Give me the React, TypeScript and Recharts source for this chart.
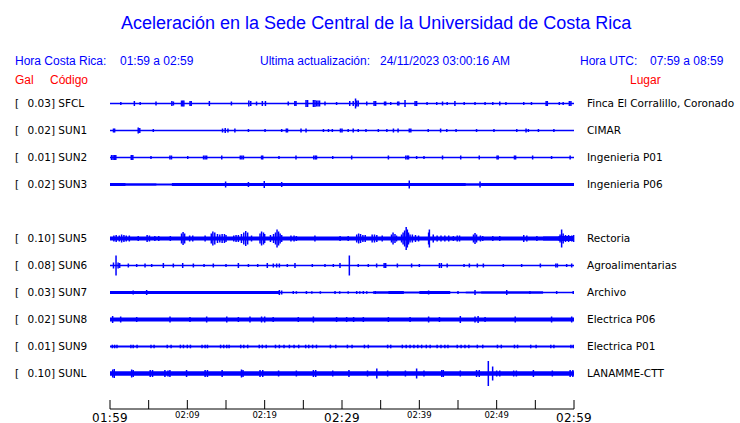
import React from 'react';
import { ComposedChart, Area, Scatter, ErrorBar, XAxis, YAxis } from 'recharts';

// ---------- categories / labels ----------
const STATIONS: (string | null)[] = ['SFCL', 'SUN1', 'SUN2', 'SUN3', null, 'SUN5', 'SUN6', 'SUN7', 'SUN8', 'SUN9', 'SUNL'];
const GAL = ['0.03', '0.02', '0.01', '0.02', '', '0.10', '0.08', '0.03', '0.02', '0.01', '0.10'];
const PLACES = ['Finca El Corralillo, Coronado', 'CIMAR', 'Ingenieria P01', 'Ingenieria P06', '', 'Rectoria', 'Agroalimentarias', 'Archivo', 'Electrica P06', 'Electrica P01', 'LANAMME-CTT'];

// minutes after 01:59
const TIME_TICKS = [0, 5, 10, 15, 20, 25, 30, 35, 40, 45, 50, 55, 60];
const TIME_LABELS = ['01:59', '', '02:09', '', '02:19', '', '02:29', '', '02:39', '', '02:49', '', '02:59'];
const MAJOR_LABELS = ['01:59', '02:29', '02:59'];

// ---------- trace envelopes (half thickness, every 2 min) ----------
const ENV_TIMES = [0, 2, 4, 6, 8, 10, 12, 14, 16, 18, 20, 22, 24, 26, 28, 30, 32, 34, 36, 38, 40, 42, 44, 46, 48, 50, 52, 54, 56, 58, 60];
const ENV_SFCL = [0.65, 0.65, 0.65, 0.65, 0.65, 0.65, 0.65, 0.65, 0.65, 0.65, 0.65, 0.65, 0.65, 0.65, 0.65, 0.65, 0.65, 0.65, 0.65, 0.65, 0.65, 0.65, 0.65, 0.65, 0.65, 0.65, 0.65, 0.65, 0.65, 0.65];
const ENV_SUN1 = [0.65, 0.65, 0.65, 0.65, 0.65, 0.65, 0.65, 0.65, 0.65, 0.65, 0.65, 0.65, 0.65, 0.65, 0.65, 0.65, 0.65, 0.65, 0.65, 0.65, 0.65, 0.65, 0.65, 0.65, 0.65, 0.65, 0.65, 0.65, 0.65, 0.65];
const ENV_SUN2 = [0.65, 0.65, 0.65, 0.65, 0.65, 0.65, 0.65, 0.65, 0.65, 0.65, 0.65, 0.65, 0.65, 0.65, 0.65, 0.65, 0.65, 0.65, 0.65, 0.65, 0.65, 0.65, 0.65, 0.65, 0.65, 0.65, 0.65, 0.65, 0.65, 0.65];
const ENV_SUN3 = [1.4, 1.2, 1.3, 1.1, 1.6, 1.6, 1.6, 1.6, 1.6, 1.6, 1.6, 1.6, 1.6, 1.6, 1.6, 1.6, 1.6, 1.6, 1.6, 1.6, 1.6, 1.6, 1.6, 1.2, 1.6, 1.4, 1.6, 1.4, 1.6, 1.6];
const ENV_SUN5 = [2.0, 2.0, 2.0, 2.0, 2.0, 2.0, 2.0, 2.0, 2.0, 2.0, 2.0, 2.0, 2.0, 2.0, 2.0, 2.0, 2.0, 2.0, 2.0, 2.0, 2.0, 2.0, 2.0, 2.0, 2.0, 2.0, 2.0, 2.0, 2.2, 2.5];
const ENV_SUN6 = [0.65, 0.65, 0.65, 0.65, 0.65, 0.65, 0.65, 0.65, 0.65, 0.65, 0.65, 0.65, 0.65, 0.65, 0.65, 0.65, 0.65, 0.65, 0.65, 0.65, 0.65, 0.65, 0.65, 0.65, 0.65, 0.65, 0.65, 0.65, 0.65, 0.65];
const ENV_SUN7 = [1.5, 1.5, 1.5, 1.5, 1.5, 1.5, 1.5, 1.5, 1.5, 1.5, 1.5, 0.8, 0.8, 0.8, 0.8, 0.8, 0.8, 1.2, 1.5, 0.9, 1.5, 1.5, 0.8, 0.9, 1.3, 1.3, 1.3, 1.3, 0.8, 0.8];
const ENV_SUN8 = [2.0, 2.0, 2.0, 2.0, 2.0, 2.0, 2.0, 2.0, 2.0, 2.0, 2.0, 2.0, 2.0, 2.0, 2.0, 2.0, 2.0, 2.0, 2.0, 2.0, 2.0, 2.0, 2.0, 2.0, 2.0, 2.0, 2.0, 2.0, 2.0, 2.0];
const ENV_SUN9 = [0.9, 0.9, 0.9, 0.9, 0.9, 0.9, 0.9, 0.9, 0.9, 0.9, 0.9, 0.9, 0.9, 0.9, 0.9, 0.9, 0.9, 0.9, 0.9, 0.9, 0.9, 0.9, 0.9, 0.9, 0.9, 0.9, 0.9, 0.9, 0.9, 0.9];
const ENV_SUNL = [2.2, 2.2, 2.2, 2.2, 2.2, 2.2, 2.2, 2.2, 2.2, 2.2, 2.2, 2.2, 2.2, 2.2, 2.2, 2.2, 2.2, 2.2, 2.2, 2.2, 2.2, 2.2, 2.2, 2.2, 2.2, 2.2, 2.2, 2.2, 2.2, 2.2];

// ---------- spikes: [minute, half amplitude] ----------
const SPK_SFCL: [number, number][] = [[1.4, 1.5], [3.15, 2.5], [3.9, 1.5], [5.95, 2], [8.0, 2.5], [8.2, 2], [9.25, 3], [9.4, 3], [9.55, 3], [10.35, 2.5], [10.5, 2.5], [12.85, 2.5], [15.7, 2], [17.95, 3], [18.2, 2.5], [18.95, 2], [19.7, 2.5], [20.1, 2.5], [23.05, 2], [23.9, 2.5], [24.05, 2.5], [25.35, 3.5], [25.55, 3.5], [26.3, 3.5], [26.5, 3.5], [26.7, 3], [26.9, 3], [27.1, 3], [27.8, 2], [29.3, 1.5], [31.0, 2.5], [31.45, 2.5], [31.75, 5], [31.9, 3], [32.1, 3], [33.2, 2], [34.15, 2.5], [34.35, 2.5], [35.5, 2], [35.65, 2], [36.3, 1.5], [37.2, 2], [37.35, 2], [38.15, 3.5], [39.45, 2.5], [39.65, 2.5], [41.0, 1.5], [42.25, 1.5], [43.0, 2], [43.6, 1.5], [44.6, 2.5], [45.8, 1.5], [47.2, 1.5], [48.5, 1.5], [49.5, 1.5], [50.4, 2], [51.2, 1.5], [53.5, 1.5], [54.5, 1.5], [56.4, 2.5], [56.55, 2.5], [58.1, 1.5], [58.6, 1.5], [59.4, 2.5], [59.6, 2.5]];
const SPK_SUN1: [number, number][] = [[0.45, 2], [0.6, 2], [3.65, 3], [3.85, 2.5], [5.6, 1.5], [14.55, 2], [14.9, 2.5], [15.25, 2], [16.15, 2], [17.9, 1.5], [20.05, 1.5], [22.2, 1.5], [22.8, 2], [22.95, 2], [24.7, 2], [25.35, 2], [27.6, 1.5], [28.25, 1.5], [28.75, 1.5], [29.8, 2], [30.0, 2], [30.8, 1.5], [31.45, 2], [32.1, 1.5], [33.1, 1.5], [34.7, 1.5], [35.8, 1.5], [36.65, 2], [37.25, 2], [38.7, 2], [38.9, 2], [41.15, 1.5], [42.75, 2], [43.55, 1.5], [44.75, 1.5], [47.4, 1.5], [49.65, 1.5], [52.6, 1.5], [53.8, 2], [54.1, 1.5], [55.4, 1.5], [57.4, 1.5]];
const SPK_SUN2: [number, number][] = [[0.2, 2.5], [0.4, 2.5], [0.6, 2.5], [0.75, 2.5], [2.75, 2.5], [2.95, 2.5], [5.3, 1.5], [7.75, 2], [7.95, 2], [10.05, 1.5], [12.1, 2], [12.3, 2], [12.5, 2], [14.45, 2], [16.85, 2], [17.05, 2], [17.25, 2], [19.6, 2], [19.75, 2], [21.85, 1.5], [24.05, 2], [26.35, 2], [26.55, 2], [26.7, 2], [28.8, 1.5], [31.25, 2], [36.0, 2], [38.25, 2], [38.45, 2], [38.6, 2], [39.65, 1.5], [40.6, 1.5], [43.0, 2], [45.35, 2], [47.75, 2], [50.05, 2], [50.2, 2], [52.3, 2], [52.45, 2], [54.65, 2], [57.1, 1.5], [59.5, 2]];
const SPK_SUN3: [number, number][] = [[14.95, 3], [17.9, 2.5], [19.95, 3.5], [22.2, 2.5], [38.7, 4], [47.85, 3]];
const SPK_SUN5: [number, number][] = [[0.5, 3], [0.8, 3.5], [1.2, 3], [1.5, 4], [1.8, 3.5], [2.1, 3], [2.5, 3], [3.65, 2.5], [4.8, 3.5], [5.1, 3], [5.8, 2.5], [6.3, 2.5], [7.8, 2.5], [9.25, 5], [9.45, 6.5], [9.65, 5], [10.3, 3], [10.7, 3], [12.3, 3], [13.1, 5], [13.3, 7], [13.55, 6], [13.9, 4.5], [14.2, 4], [14.5, 4.5], [14.8, 4.5], [15.0, 3.5], [16.0, 3], [16.3, 3.5], [16.6, 3.5], [17.0, 4.5], [17.3, 6], [17.55, 7.5], [17.8, 6], [18.3, 3], [19.4, 5], [19.6, 7], [19.85, 6], [20.0, 4.5], [20.75, 3.5], [21.15, 4.5], [21.4, 6], [21.6, 9], [21.8, 7], [22.0, 5], [22.2, 3.5], [23.4, 3], [23.8, 3], [24.1, 2.5], [26.5, 3], [29.75, 2.5], [30.8, 2.5], [31.9, 4], [32.15, 5], [32.4, 4.5], [32.7, 3.5], [33.0, 3.5], [33.9, 4], [34.2, 4], [34.5, 3.5], [35.2, 3], [36.4, 4], [36.6, 6], [36.85, 4.5], [37.05, 3], [37.7, 4], [37.9, 6], [38.1, 8], [38.3, 11.5], [38.45, 9], [38.6, 6], [38.8, 4], [39.1, 4], [39.5, 3.5], [39.9, 3], [41.2, 6], [41.3, 9], [41.8, 4], [42.3, 3], [42.8, 3], [43.3, 3], [43.8, 3], [44.4, 2.5], [44.9, 3], [45.2, 3], [47.0, 4], [47.2, 5.5], [47.4, 4], [47.9, 3], [48.2, 2.5], [49.5, 2.5], [50.4, 2.5], [53.5, 3.5], [53.9, 3], [55.2, 2.5], [58.2, 4], [58.4, 9], [58.6, 5], [58.9, 3.5], [59.3, 3.5], [59.7, 3], [59.95, 3.5]];
const SPK_SUN6: [number, number][] = [[0.45, 3], [0.78, 10], [1.05, 3], [1.25, 2.5], [2.37, 2], [3.45, 1.5], [4.53, 2], [5.39, 1.5], [6.9, 2.5], [8.19, 2], [9.4, 2.5], [10.78, 2], [12.16, 1.5], [13.36, 2], [15.0, 1.5], [16.6, 2.5], [17.9, 1.5], [19.1, 1.5], [20.34, 2.5], [21.12, 2], [21.55, 2], [21.9, 2], [22.93, 1.5], [23.92, 2.5], [26.16, 1.5], [27.8, 1.5], [28.88, 1.5], [29.74, 2.5], [30.95, 10], [32.1, 1.5], [33.4, 1.5], [34.48, 2], [35.45, 2.5], [35.65, 2.5], [37.16, 2], [39.0, 2], [40.0, 1.5], [42.6, 2.5], [42.85, 2.5], [43.6, 2], [45.78, 1.5], [46.47, 2], [47.5, 2], [48.28, 2], [50.86, 1.5], [53.23, 1.5], [55.65, 2], [57.65, 2], [57.85, 2], [59.05, 1.5], [59.7, 2]];
const SPK_SUN7: [number, number][] = [[3.0, 2], [4.74, 2.5], [6.47, 1.5], [9.9, 1.5], [12.5, 1.5], [15.95, 1.5], [21.9, 2.5], [22.2, 2], [23.7, 1.5], [24.1, 1.3], [25.4, 1.5], [26.1, 1.3], [27.2, 1.3], [29.1, 1.5], [29.7, 1.3], [30.8, 1.3], [31.9, 1.5], [32.3, 1.3], [32.76, 1.5], [33.2, 1.3], [34.3, 1.5], [37.5, 1.5], [41.2, 2], [43.5, 1.5], [45.0, 1.5], [47.2, 2.5], [51.3, 2.5], [54.3, 1.5], [57.76, 1.5], [59.9, 1.5]];
const SPK_SUN8: [number, number][] = [[0.34, 3.5], [1.38, 3], [3.45, 2.5], [7.76, 3], [10.34, 2.5], [12.5, 3], [15.1, 3], [16.6, 2.5], [18.1, 3], [19.6, 3], [20.0, 3], [21.1, 2.5], [24.35, 2.5], [26.3, 3], [29.3, 2.5], [30.6, 2.5], [31.5, 2.5], [32.76, 2.5], [36.0, 2.5], [38.8, 2.5], [41.2, 3], [42.6, 2.5], [45.3, 3.5], [47.2, 3], [47.6, 3.5], [48.5, 2.5], [52.4, 3], [57.1, 3], [59.7, 3]];
const SPK_SUN9: [number, number][] = [[0.3, 1.8], [0.6, 1.8], [0.9, 1.8], [2.7, 1.8], [3.0, 1.8], [3.5, 1.8], [5.3, 1.8], [5.7, 1.8], [7.4, 1.8], [7.9, 1.8], [9.1, 1.8], [9.5, 1.8], [10.0, 1.8], [10.4, 1.8], [11.9, 1.8], [12.3, 1.8], [12.6, 1.8], [14.3, 1.8], [14.7, 1.8], [15.1, 1.8], [15.4, 1.8], [16.9, 1.8], [17.3, 1.8], [17.8, 1.8], [19.3, 1.8], [19.7, 1.8], [20.2, 1.8], [21.4, 1.8], [21.9, 1.8], [22.5, 1.8], [23.2, 1.8], [23.8, 1.8], [24.4, 1.8], [25.3, 1.8], [25.7, 1.8], [26.2, 1.8], [26.7, 1.8], [28.5, 1.8], [29.2, 1.8], [30.7, 1.8], [31.3, 1.8], [32.9, 1.8], [33.4, 1.8], [35.9, 1.8], [36.3, 1.8], [37.8, 1.8], [38.3, 1.8], [38.8, 1.8], [39.3, 1.8], [39.8, 1.8], [40.3, 1.8], [40.9, 1.8], [41.4, 1.8], [42.3, 1.8], [42.8, 1.8], [43.3, 1.8], [43.7, 1.8], [44.9, 1.8], [45.4, 1.8], [45.9, 1.8], [46.4, 1.8], [47.5, 1.8], [48.2, 1.8], [50.1, 1.8], [50.6, 1.8], [52.3, 1.8], [52.7, 1.8], [54.4, 1.8], [55.1, 1.8], [57.0, 1.8], [57.4, 1.8], [59.6, 1.8], [59.9, 1.8]];
const SPK_SUNL: [number, number][] = [[0.35, 4], [0.55, 4.5], [2.8, 4], [3.0, 3.5], [5.2, 3.5], [5.5, 3.5], [7.1, 3.5], [7.5, 3], [7.75, 3.5], [9.9, 3.5], [12.3, 3.5], [12.6, 3.5], [14.5, 3.5], [17.0, 4], [17.2, 3.5], [19.4, 3.5], [19.75, 3.5], [21.8, 3], [24.1, 3], [26.3, 3.5], [26.6, 3.5], [28.8, 3], [30.9, 3.5], [33.3, 3], [34.5, 5], [35.9, 3], [38.2, 3], [39.65, 5], [40.6, 3], [42.9, 3.5], [43.1, 3.5], [45.3, 3], [47.4, 3.5], [47.75, 3.5], [48.92, 12.5], [49.48, 7], [50.0, 3], [50.4, 3], [52.2, 3], [52.55, 3], [54.75, 3.5], [57.2, 3], [59.5, 3.5], [59.85, 3.5]];

const ENVS = [ENV_SFCL, ENV_SUN1, ENV_SUN2, ENV_SUN3, null, ENV_SUN5, ENV_SUN6, ENV_SUN7, ENV_SUN8, ENV_SUN9, ENV_SUNL];
const SPIKES = [SPK_SFCL, SPK_SUN1, SPK_SUN2, SPK_SUN3, null, SPK_SUN5, SPK_SUN6, SPK_SUN7, SPK_SUN8, SPK_SUN9, SPK_SUNL];

// ---------- layout ----------
const BLUE = '#0000ff';
const ROW_STEP = 27;
const N = STATIONS.length;
const centerOf = (k: number) => (N - 1 - k) * ROW_STEP;
const Y_DOMAIN: [number, number] = [-35.5, 283.5];
const ROW_TICKS = STATIONS.map((s, k) => (s ? centerOf(k) : null)).filter((v) => v !== null) as number[];

const chartData = ENV_TIMES.map((t, i) => {
  const row: any = { t };
  ENVS.forEach((env, k) => {
    if (!env) return;
    const a = env[Math.min(i, env.length - 1)];
    row['s' + k] = [centerOf(k) - a, centerOf(k) + a];
  });
  return row;
});

const spikeData = SPIKES.map((list, k) =>
  list ? list.map(([t, a]) => ({ t, y: centerOf(k), e: a })) : null
);

const labelFont = 'DejaVu Sans, sans-serif';
const headFont = 'Liberation Sans, Arial, Helvetica, sans-serif';

const rowIndex = (v: number) => N - 1 - Math.round(v / ROW_STEP);

const LeftTick = (props: any) => {
  const { x, y, payload } = props;
  const k = rowIndex(payload.value);
  if (!STATIONS[k]) return <g />;
  return (
    <g>
      <text x={x - 95} y={y + 3.5} fontSize={10.5} fontFamily={labelFont} fill="#000">[</text>
      <text x={x - 82.5} y={y + 3.5} fontSize={10.5} fontFamily={labelFont} fill="#000">{GAL[k] + '] ' + STATIONS[k]}</text>
    </g>
  );
};

const RightTick = (props: any) => {
  const { x, y, payload } = props;
  const k = rowIndex(payload.value);
  return (
    <text x={x} y={y + 3.5} fontSize={10.5} fontFamily={labelFont} fill="#000" textAnchor="start">{PLACES[k]}</text>
  );
};

const TimeTick = (props: any) => {
  const { x, y, payload } = props;
  const idx = TIME_TICKS.indexOf(payload.value);
  const label = TIME_LABELS[idx] || '';
  const major = MAJOR_LABELS.includes(label);
  return (
    <g>
      <line x1={x} x2={x} y1={y} y2={y - 9} stroke="#000" strokeWidth={1} />
      {label && (
        <text
          x={x}
          y={y + (major ? 12.5 : 9)}
          textAnchor="middle"
          fontSize={major ? 12 : 8.5}
          fontFamily={labelFont}
          letterSpacing={major ? 0.3 : 0}
          fill="#000"
        >
          {label}
        </text>
      )}
    </g>
  );
};

const EmptyShape = () => <g />;

export default function App() {
  return (
    <div style={{ position: 'absolute', left: 0, top: 0, width: 740, height: 423, background: '#fff' }}>
      <ComposedChart
        width={740}
        height={423}
        data={chartData}
        margin={{ top: 90, right: 0, bottom: 0, left: 15 }}
      >
        <XAxis
          dataKey="t"
          type="number"
          domain={[0, 60]}
          ticks={TIME_TICKS}
          interval={0}
          height={14}
          tickSize={0}
          tickMargin={0}
          tickLine={false}
          axisLine={{ stroke: '#000', strokeWidth: 1 }}
          tick={TimeTick}
          allowDataOverflow
        />
        <YAxis
          yAxisId="l"
          orientation="left"
          type="number"
          domain={Y_DOMAIN}
          ticks={ROW_TICKS}
          interval={0}
          width={95}
          tickSize={0}
          tickMargin={0}
          axisLine={false}
          tickLine={false}
          tick={LeftTick}
          allowDataOverflow
        />
        <YAxis
          yAxisId="r"
          orientation="right"
          type="number"
          domain={Y_DOMAIN}
          ticks={ROW_TICKS}
          interval={0}
          width={166}
          tickSize={0}
          tickMargin={13}
          axisLine={false}
          tickLine={false}
          tick={RightTick}
          allowDataOverflow
        />
        {ENVS.map((env, k) =>
          env ? (
            <Area
              key={'a' + k}
              yAxisId="l"
              dataKey={'s' + k}
              type="stepAfter"
              fill={BLUE}
              fillOpacity={1}
              stroke="none"
              dot={false}
              activeDot={false}
              isAnimationActive={false}
            />
          ) : null
        )}
        {spikeData.map((pts, k) =>
          pts ? (
            <Scatter
              key={'p' + k}
              yAxisId="l"
              data={pts}
              dataKey="y"
              fill={BLUE}
              shape={EmptyShape}
              isAnimationActive={false}
            >
              <ErrorBar dataKey="e" direction="y" width={0} stroke={BLUE} strokeWidth={1.5} isAnimationActive={false} />
            </Scatter>
          ) : null
        )}
      </ComposedChart>
      <svg width={740} height={423} style={{ position: 'absolute', left: 0, top: 0, pointerEvents: 'none' }}>
        <text x={121} y={29} fontSize={18} fontFamily={headFont} fill={BLUE}>
          Aceleración en la Sede Central de la Universidad de Costa Rica
        </text>
        <text x={15} y={65} fontSize={12} fontFamily={headFont} fill={BLUE}>Hora Costa Rica:</text>
        <text x={120} y={65} fontSize={12} fontFamily={headFont} fill={BLUE}>01:59 a 02:59</text>
        <text x={260} y={65} fontSize={12} fontFamily={headFont} fill={BLUE}>Ultima actualización:</text>
        <text x={380} y={65} fontSize={12} fontFamily={headFont} fill={BLUE}>24/11/2023 03:00:16 AM</text>
        <text x={580} y={65} fontSize={12} fontFamily={headFont} fill={BLUE}>Hora UTC:</text>
        <text x={650} y={65} fontSize={12} fontFamily={headFont} fill={BLUE}>07:59 a 08:59</text>
        <text x={15} y={84} fontSize={12} fontFamily={headFont} fill="#ff0000">Gal</text>
        <text x={50} y={84} fontSize={12} fontFamily={headFont} fill="#ff0000">Código</text>
        <text x={630} y={84} fontSize={12} fontFamily={headFont} fill="#ff0000">Lugar</text>
      </svg>
    </div>
  );
}
